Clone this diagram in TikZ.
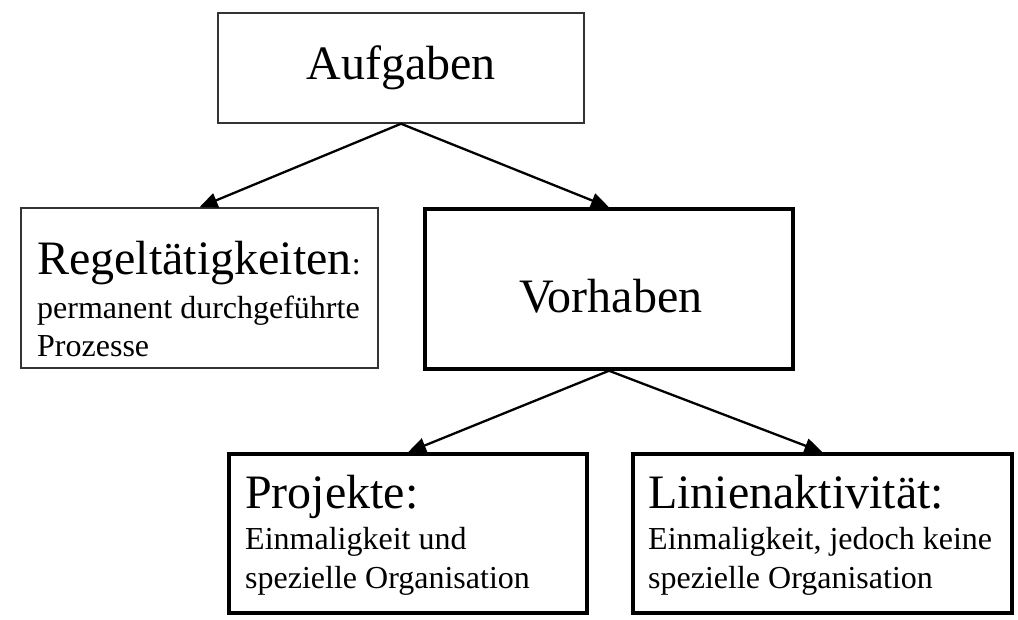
\documentclass[tikz,border=0pt]{standalone}
\usepackage{fontspec}
\setmainfont{Liberation Serif}
\usetikzlibrary{arrows.meta,positioning}

\newcommand{\grossschrift}{\fontsize{48}{48}\selectfont}
\newcommand{\kleinschrift}{\fontsize{32}{38.5}\selectfont}

\tikzset{
  duenn/.style={draw=black!80,line width=1.5pt,inner sep=0pt},
  dick/.style={draw=black,line width=3.5pt,inner sep=0pt},
  titel/.style={font=\grossschrift,inner sep=0pt,anchor=base west},
  beschr/.style={font=\kleinschrift,align=left,inner sep=0pt,anchor=base west},
  pfeil/.style={line width=2.3pt,-{Triangle[length=18pt,width=15pt]}}
}

\begin{document}
\begin{tikzpicture}[x=1pt,y=-1pt]
\useasboundingbox (0,0) rectangle (1018,620);
% Kästen
\node[duenn,minimum width=366pt,minimum height=110pt] (aufgaben) at (401,68) {\grossschrift Aufgaben};
\node[duenn,minimum width=357pt,minimum height=160pt] (regel) at (199.5,288) {};
\node[dick,minimum width=368pt,minimum height=160pt] (vorhaben) at (609,289) {};
\node[dick,minimum width=358pt,minimum height=159pt] (projekte) at (408,533.5) {};
\node[dick,minimum width=379pt,minimum height=159pt] (linie) at (822.5,533.5) {};
% Texte (Grundlinie der letzten Zeile)
\node[titel] (regelT) at (37,275) {Regeltätigkeiten{\kleinschrift :}};
\node[beschr] (regelB) at (37,357) {permanent durchgeführte\\Prozesse};
\node[font=\grossschrift,inner sep=0pt,anchor=base] (vorhabenT) at (611,313) {Vorhaben};
\node[titel] (projekteT) at (245,508) {Projekte:};
\node[beschr] (projekteB) at (245,588) {Einmaligkeit und\\spezielle Organisation};
\node[titel] (linieT) at (648,508) {Linienaktivität:};
\node[beschr] (linieB) at (648,588) {Einmaligkeit, jedoch keine\\spezielle Organisation};
% Pfeile
\draw[pfeil] (aufgaben.south) -- (regel.north);
\draw[pfeil] (aufgaben.south) -- (vorhaben.north);
\draw[pfeil] (vorhaben.south) -- (projekte.north);
\draw[pfeil] (vorhaben.south) -- (linie.north);
\end{tikzpicture}
\end{document}
